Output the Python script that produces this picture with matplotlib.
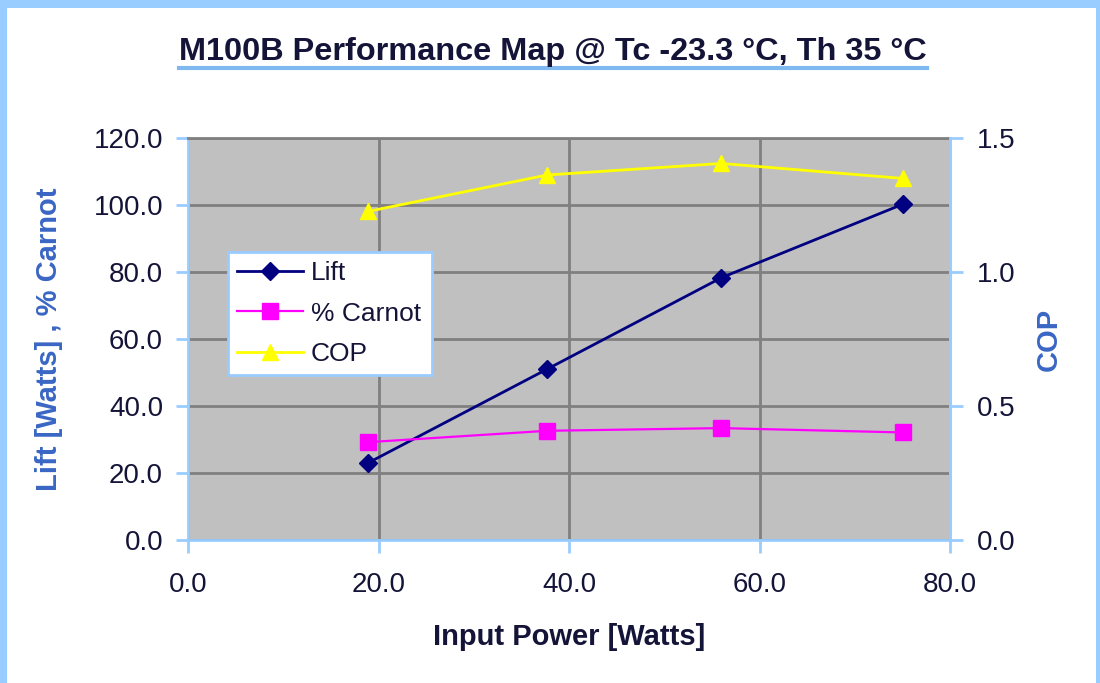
import matplotlib
matplotlib.use("Agg")
import matplotlib.pyplot as plt
from matplotlib.patches import Rectangle
from matplotlib.ticker import MultipleLocator, FormatStrFormatter

# data points
input_power = [18.9, 37.7, 56.0, 75.1]   # [Watts]
lift = [23.0, 51.0, 78.3, 100.3]          # [Watts]
carnot = [29.2, 32.6, 33.4, 32.1]         # [%]
cop = [1.226, 1.362, 1.405, 1.349]

AXIS_BLUE = "#99CCFF"
TEXT_DARK = "#141438"
LABEL_BLUE = "#3A66C4"

plt.rcParams["font.family"] = ["Liberation Sans", "DejaVu Sans"]

fig = plt.figure(figsize=(11, 6.83), dpi=100)
fig.patch.set_facecolor(AXIS_BLUE)
# white sheet inside the blue frame
sheet = Rectangle((7/1100, -0.05), 1089/1100, 1.05 - 8/683,
                  transform=fig.transFigure, facecolor="white",
                  edgecolor="none", zorder=-10)
fig.add_artist(sheet)

ax = fig.add_axes([188/1100, 1 - 540/683, 762/1100, 402/683])
ax.set_facecolor("#C0C0C0")
ax.set_xlim(0, 80)
ax.set_ylim(0, 120)
ax.xaxis.set_major_locator(MultipleLocator(20))
ax.yaxis.set_major_locator(MultipleLocator(20))
ax.xaxis.set_major_formatter(FormatStrFormatter("%.1f"))
ax.yaxis.set_major_formatter(FormatStrFormatter("%.1f"))
ax.grid(True, color="#808080", lw=2)
ax.set_axisbelow(True)
for s in ["left", "bottom", "right"]:
    ax.spines[s].set_color(AXIS_BLUE)
    ax.spines[s].set_linewidth(2)
ax.spines["top"].set_color("#808080")
ax.spines["top"].set_linewidth(2)
ax.tick_params(axis="both", direction="out", length=9, width=2, color=AXIS_BLUE,
               labelsize=20, labelcolor=TEXT_DARK)
ax.tick_params(axis="y", pad=9)
ax.tick_params(axis="x", pad=14)

ax2 = ax.twinx()
ax2.set_ylim(0, 1.5)
ax2.yaxis.set_major_locator(MultipleLocator(0.5))
ax2.yaxis.set_major_formatter(FormatStrFormatter("%.1f"))
for s in ax2.spines.values():
    s.set_visible(False)
ax2.spines["right"].set_visible(True)
ax2.spines["right"].set_color(AXIS_BLUE)
ax2.spines["right"].set_linewidth(2)
ax2.tick_params(axis="y", direction="out", length=9, width=2, color=AXIS_BLUE,
                labelsize=20, labelcolor=TEXT_DARK, pad=10)

l1, = ax.plot(input_power, lift, color="#000080", lw=2, marker="D", ms=9,
              label="Lift", zorder=4)
l2, = ax.plot(input_power, carnot, color="#FF00FF", lw=1.6, marker="s", ms=11,
              label="% Carnot", zorder=4)
l3, = ax2.plot(input_power, cop, color="#FFFF00", lw=2, marker="^", ms=12,
               label="COP", zorder=4)

leg = ax2.legend(handles=[l1, l2, l3], loc="lower left",
                 bbox_to_anchor=(0.052, 0.41, 0.268, 0.304), mode="expand",
                 fontsize=19, frameon=True, fancybox=False, borderpad=0.35,
                 handlelength=2.5, handletextpad=0.3, labelspacing=0.62,
                 borderaxespad=0, framealpha=1)
leg.get_frame().set_facecolor("white")
leg.get_frame().set_edgecolor(AXIS_BLUE)
leg.get_frame().set_linewidth(2)
for t in leg.get_texts():
    t.set_color(TEXT_DARK)

ax.set_xlabel("Input Power [Watts]", fontsize=21, fontweight="bold",
              color=TEXT_DARK, labelpad=18)
ax.set_ylabel("Lift [Watts] , % Carnot", fontsize=21, fontweight="bold",
              color=LABEL_BLUE, labelpad=22)
ax2.set_ylabel("COP", fontsize=21, fontweight="bold", color=LABEL_BLUE,
               labelpad=14)

title = fig.text(553/1100, 1 - 52/683,
                 "M100B Performance Map @ Tc -23.3 \u00b0C, Th 35 \u00b0C",
                 ha="center", va="center", fontsize=23.4, fontweight="bold",
                 color=TEXT_DARK)
# underline below the title
fig.canvas.draw()
bb = title.get_window_extent().transformed(fig.transFigure.inverted())
fig.add_artist(plt.Line2D([bb.x0, bb.x1], [1 - 68/683, 1 - 68/683],
                          transform=fig.transFigure, color="#80B8F0", lw=3))

fig.savefig("out.png", dpi=100, facecolor=fig.get_facecolor())
